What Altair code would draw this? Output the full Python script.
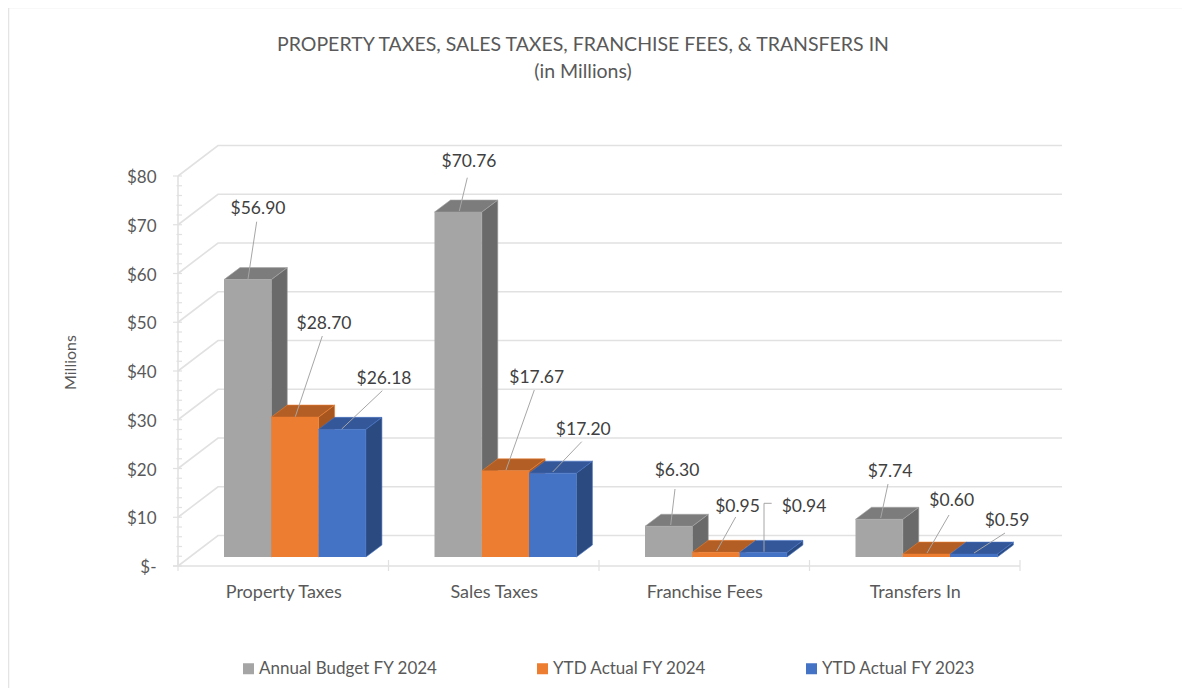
import altair as alt
import pandas as pd

# ---- values
categories = ["Property Taxes", "Sales Taxes", "Franchise Fees", "Transfers In"]
series_names = ["Annual Budget FY 2024", "YTD Actual FY 2024", "YTD Actual FY 2023"]
annual_budget = [56.90, 70.76, 6.30, 7.74]
ytd_2024 = [28.70, 17.67, 0.95, 0.60]
ytd_2023 = [26.18, 17.20, 0.94, 0.59]
series_values = [annual_budget, ytd_2024, ytd_2023]
y_ticks = list(range(0, 81, 10))
minor_ticks = list(range(0, 81, 2))

# ---- styles
FONT = "Lato"
front = ["#a5a5a5", "#ed7d31", "#4472c4"]
top_col = ["#7c7c7c", "#b25e24", "#345799"]
side_col = ["#6a6a6a", "#a8561f", "#2b4a80"]
GRID = "#e1e1e1"
LEAD = "#a6a6a6"
TXT = "#595959"
LBL = "#404040"

# ---- layout (view is at page px 178..1020, 176..566)
VW, VH = 842, 390
PX_X = VW / 4
PX_Y = VH / 80
fx = lambda px: (px - 178) / PX_X
fy = lambda px: (566 - px) / PX_Y

bar_start = (224 - 178) / PX_X
bar_w = 47.3 / PX_X
depth_x = 16 / PX_X
depth_y = 12 / PX_Y
floor = 9 / PX_Y
wall_x = 40 / PX_X
wall_end = 42 / PX_X
wall_y = 30.5 / PX_Y

# label centres and leader paths (page px), placed by eye on the picture
label_pos = [
    [(258, 207), (324, 322), (384, 377)],
    [(469, 160), (536.7, 376), (583.3, 428)],
    [(677, 469), (737.5, 505), (804, 505)],
    [(890, 470), (951.7, 499), (1007, 519)],
]
leaders = [
    [[(256.7, 221.7), (248, 279)], [(322.3, 336), (295.3, 416.7)], [(382.3, 390.7), (341.7, 429)]],
    [[(467.3, 177.7), (459.3, 211)], [(534.3, 390), (506, 470)], [(581.7, 441.7), (552.7, 472)]],
    [[(675, 489), (670.7, 525)], [(735.7, 517), (716.7, 551)], [(771.7, 503.3), (764, 503.3), (764, 551.7)]],
    [[(888, 484), (880.7, 518)], [(949, 515), (927, 553)], [(1005, 533), (974, 553)]],
]

x_scale = alt.Scale(domain=[0, 4], nice=False, zero=False)
y_scale = alt.Scale(domain=[0, 80], nice=False, zero=False)
cat_expr = "[" + ",".join(f"'{c}'" for c in categories) + "][floor(datum.value)]"
x_axis = alt.Axis(
    values=[0.5, 1.5, 2.5, 3.5], labelExpr=cat_expr, ticks=False, domain=False, grid=False,
    labelFont=FONT, labelFontSize=18, labelColor=TXT, labelPadding=17)
y_axis = alt.Axis(
    values=y_ticks, labelExpr="datum.value == 0 ? '$-' : '$' + datum.value", ticks=False, domain=False,
    grid=False, labelFont=FONT, labelFontSize=17, labelColor=TXT, labelPadding=22, labelOffset=1.5,
    titleFont=FONT, titleFontSize=16, titleColor=TXT, titleFontWeight="normal",
    titleX=-100, titleY=186)
X = lambda f="x": alt.X(f"{f}:Q", scale=x_scale, axis=x_axis, title=None)
Y = lambda f="y": alt.Y(f"{f}:Q", scale=y_scale, axis=y_axis, title="Millions")

layers = []

# ---- chart frame
frame = pd.DataFrame({"x": [fx(8.5), fx(8.5), fx(1182)], "y": [fy(688), fy(7.5), fy(7.5)], "i": [0, 1, 2]})
layers.append(alt.Chart(frame).mark_line(color="#e4e4e4", strokeWidth=1.5).encode(X(), Y(), order="i:Q"))

# ---- walls: gridlines
grid_rows = []
for v in y_ticks:
    grid_rows += [
        {"g": v, "i": 0, "x": 0, "y": v},
        {"g": v, "i": 1, "x": wall_x, "y": v + wall_y},
        {"g": v, "i": 2, "x": 4 + wall_end, "y": v + wall_y},
    ]
layers.append(alt.Chart(pd.DataFrame(grid_rows)).mark_line(color=GRID, strokeWidth=1.6).encode(X(), Y(), detail="g:N", order="i:Q"))

# axis lines and tick marks
axis_df = pd.DataFrame({"x": [0, fx(173)], "y": [0, 0], "x2": [0, 4], "y2": [80, 0]})
layers.append(alt.Chart(axis_df).mark_rule(color=GRID, strokeWidth=1.6).encode(X(), Y(), x2="x2:Q", y2="y2:Q"))
major = pd.DataFrame({"y": y_ticks, "x": fx(173), "x2": fx(182)})
minor = pd.DataFrame({"y": [m for m in minor_ticks if m % 10], "x": fx(176.5), "x2": fx(182)})
xt = pd.DataFrame({"x": list(range(5)), "y": fy(571), "y2": fy(560)})
layers.append(alt.Chart(major).mark_rule(color=GRID, strokeWidth=1.2).encode(X(), Y(), x2="x2:Q"))
layers.append(alt.Chart(minor).mark_rule(color=GRID, strokeWidth=1.2).encode(X(), Y(), x2="x2:Q"))
layers.append(alt.Chart(xt).mark_rule(color=GRID, strokeWidth=1.2).encode(X(), Y(), y2="y2:Q"))

# ---- bars: side, top, front for each series in draw order
color_enc = alt.Color(
    "series:N",
    scale=alt.Scale(domain=series_names, range=front),
    legend=alt.Legend(
        orient="none", legendX=62, legendY=484, direction="horizontal", columns=3, title=None,
        symbolType="square", symbolSize=121, symbolStrokeWidth=0, labelFont=FONT, labelFontSize=17,
        labelColor=TXT, columnPadding=96, labelOffset=2, gridAlign="each", labelLimit=300,
    ),
)
for s, (name, vals) in enumerate(zip(series_names, series_values)):
    tops, sides, fronts = [], [], []
    for c, v in enumerate(vals):
        x0 = c + bar_start + s * bar_w
        x1 = x0 + bar_w
        b = floor
        t = floor + v
        poly = f"{s}-{c}"
        # top face: upper edge rises then runs flat, lower edge runs flat then rises
        tops += [
            {"p": poly, "x": x0, "y": t, "y2": t},
            {"p": poly, "x": x0 + depth_x, "y": t + depth_y, "y2": t},
            {"p": poly, "x": x1, "y": t + depth_y, "y2": t},
            {"p": poly, "x": x1 + depth_x, "y": t + depth_y, "y2": t + depth_y},
        ]
        sides += [
            {"p": poly, "x": x1, "y": t, "y2": b},
            {"p": poly, "x": x1 + depth_x, "y": t + depth_y, "y2": b + depth_y},
        ]
        fronts.append({"series": name, "x": x0, "x2": x1, "y": t, "y2": b})
    layers.append(alt.Chart(pd.DataFrame(sides)).mark_area(fill=side_col[s], stroke=front[s], strokeWidth=0.6, opacity=1).encode(X(), Y(), y2="y2:Q", detail="p:N"))
    layers.append(alt.Chart(pd.DataFrame(tops)).mark_area(fill=top_col[s], stroke=front[s], strokeWidth=0.6, opacity=1).encode(X(), Y(), y2="y2:Q", detail="p:N"))
    layers.append(alt.Chart(pd.DataFrame(fronts)).mark_bar(cornerRadius=0).encode(X(), Y(), x2="x2:Q", y2="y2:Q", color=color_enc))

# ---- leader lines and value labels
lead_rows, label_rows = [], []
for c in range(len(categories)):
    for s in range(len(series_names)):
        for i, (px, py) in enumerate(leaders[c][s]):
            lead_rows.append({"g": f"{c}-{s}", "i": i, "x": fx(px), "y": fy(py)})
        lx, ly = label_pos[c][s]
        label_rows.append({"x": fx(lx), "y": fy(ly), "t": f"${series_values[s][c]:.2f}"})
layers.append(alt.Chart(pd.DataFrame(lead_rows)).mark_line(color=LEAD, strokeWidth=1).encode(X(), Y(), detail="g:N", order="i:Q"))
layers.append(alt.Chart(pd.DataFrame(label_rows)).mark_text(font=FONT, fontSize=17.5, color=LBL, align="center", baseline="middle", dy=1.5).encode(X(), Y(), text="t:N"))

chart = alt.layer(*layers).properties(
    width=VW,
    height=VH,
    autosize=alt.AutoSizeParams(type="none"),
    padding={"left": 170, "top": 168, "right": 162, "bottom": 122},
    background="white",
    title=alt.TitleParams(
        text=["PROPERTY TAXES, SALES TAXES, FRANCHISE FEES, & TRANSFERS IN", "(in Millions)"],
        anchor="middle", dx=-16, offset=-78, font=FONT, fontSize=19.5, fontWeight="normal",
        color=TXT, lineHeight=27,
    ),
).configure_view(stroke=None)

chart.save("out.html", embed_options={"renderer": "svg", "actions": False})
